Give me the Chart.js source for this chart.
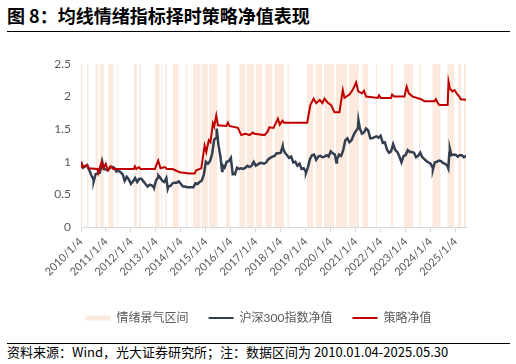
<!DOCTYPE html>
<html>
<head>
<meta charset="utf-8">
<script src="https://cdn.jsdelivr.net/npm/chart.js@4.4.1/dist/chart.umd.min.js"></script>
<style>
    body { margin: 0; background: #fff; width: 516px; height: 364px; position: relative; overflow: hidden; font-family: "Noto Sans CJK SC", sans-serif; }
    #title { position: absolute; left: 7px; top: 5px; font-size: 18px; font-weight: bold; line-height: 20px; color: #000; white-space: nowrap; }
    .rule { position: absolute; left: 7px; width: 503px; height: 1px; background: #000; }
    #source { position: absolute; left: 7px; top: 345px; font-size: 13px; line-height: 14px; color: #000; white-space: nowrap; }
    #wrap { position: absolute; left: 0; top: 40px; width: 516px; height: 294px; }
</style>
</head>
<body>
<div id="title">图 8：均线情绪指标择时策略净值表现</div>
<div class="rule" style="top:31px"></div>
<div id="wrap"><canvas id="chart"></canvas></div>
<div class="rule" style="top:343px"></div>
<div id="source">资料来源：Wind，光大证券研究所；注：数据区间为 2010.01.04-2025.05.30</div>
<script>
// --- dados (x em meses desde 2010/1/4) ---
const yearTickMonths = [0, 12, 24, 36, 48, 60, 72, 84, 96, 108, 120, 132, 144, 156, 168, 180];
const yearLabels = ['2010/1/4', '2011/1/4', '2012/1/4', '2013/1/4', '2014/1/4', '2015/1/4', '2016/1/4', '2017/1/4',
    '2018/1/4', '2019/1/4', '2020/1/4', '2021/1/4', '2022/1/4', '2023/1/4', '2024/1/4', '2025/1/4'];

const seriesNames = ['情绪景气区间', '沪深300指数净值', '策略净值'];

// 沪深300净值, fim de cada mês (2010/01 .. 2025/05)
const indexMonthEnd = [
    0.91, 0.93, 0.95, 0.87, 0.79, 0.73, 0.81, 0.82, 0.83, 0.96, 0.89, 0.88,
    0.87, 0.92, 0.92, 0.91, 0.85, 0.86, 0.84, 0.81, 0.71, 0.77, 0.73, 0.66,
    0.70, 0.75, 0.69, 0.74, 0.74, 0.70, 0.66, 0.62, 0.65, 0.64, 0.61, 0.71,
    0.76, 0.76, 0.71, 0.69, 0.75, 0.62, 0.63, 0.67, 0.68, 0.68, 0.70, 0.66,
    0.62, 0.62, 0.61, 0.61, 0.61, 0.61, 0.67, 0.66, 0.69, 0.71, 0.80, 1.00,
    0.97, 1.01, 1.12, 1.34, 1.37, 1.27, 1.08, 0.95, 0.91, 1.00, 1.01, 1.06,
    0.83, 0.81, 0.91, 0.89, 0.90, 0.89, 0.91, 0.94, 0.92, 0.94, 1.00, 0.94,
    0.96, 0.98, 0.98, 0.97, 0.99, 1.04, 1.06, 1.08, 1.09, 1.13, 1.13, 1.14,
    1.21, 1.14, 1.10, 1.06, 1.08, 0.99, 1.00, 0.94, 0.97, 0.89, 0.90, 0.85,
    0.91, 1.04, 1.10, 1.11, 1.03, 1.08, 1.09, 1.07, 1.08, 1.10, 1.08, 1.16,
    1.13, 1.11, 1.04, 1.11, 1.09, 1.18, 1.33, 1.36, 1.30, 1.33, 1.41, 1.47,
    1.51, 1.51, 1.43, 1.45, 1.51, 1.48, 1.36, 1.36, 1.38, 1.39, 1.37, 1.40,
    1.29, 1.30, 1.19, 1.14, 1.16, 1.27, 1.18, 1.15, 1.08, 0.99, 1.09, 1.10,
    1.18, 1.15, 1.15, 1.14, 1.07, 1.09, 1.14, 1.07, 1.04, 1.01, 0.99, 0.97,
    0.91, 0.99, 1.00, 1.02, 1.01, 0.98, 0.97, 0.94, 1.14, 1.10, 1.11, 1.11,
    1.08, 1.10, 1.10, 1.07, 1.09
];
// picos e vales dentro do mês
const indexSpikeMonths = [6.1, 10.2, 35.1, 37.2, 41.7, 65.2, 67.8, 72.9, 96.9, 108.1, 122.7, 133.3, 169.1, 176.5, 177.25];
const indexSpikeValues = [0.70, 1.00, 0.60, 0.79, 0.59, 1.51, 0.86, 0.81, 1.24, 0.83, 0.99, 1.64, 0.88, 0.90, 1.20];

// 策略净值
const strategyMonths = [0, 0.5, 2.9, 3.5, 7.9, 8.3, 9.9, 10.7, 11.9, 12.8, 14.3, 15.5, 25.4, 25.9, 26.6, 27.8, 28.6,
    35.5, 37.1, 38.2, 40.3, 41.3, 44, 47.4, 52, 54.6, 55.4, 57.8, 59.4, 60.2, 61.4, 62.2, 63.4, 64, 65, 65.8,
    69.8, 70.6, 71.3, 75.4, 77, 79, 81, 82.6, 83.3, 88.2, 89.8, 90.5, 92.5, 94.6, 95.5, 96.8, 97.6, 108.7,
    110.2, 111.8, 113, 114.7, 116, 117, 118.5, 120.2, 121.8, 124.2, 125.8, 126.6, 129, 130.5, 132.2, 133.2,
    135, 136, 137, 142.6, 143.2, 144, 149, 149.5, 150.5, 155.4, 156.5, 157.5, 159.4, 163.4, 165, 169.8,
    170.5, 171.5, 172.2, 176.2, 176.6, 177.3, 178.5, 179.5, 180.5, 181.8, 182.5, 185];
const strategyValues = [1.0, 0.92, 0.95, 0.9, 0.89, 0.83, 1.0, 0.9, 0.97, 0.87, 0.93, 0.89, 0.89, 0.93, 0.89, 0.92, 0.89,
    0.89, 1.02, 0.9, 0.92, 0.89, 0.89, 0.84, 0.82, 0.82, 0.87, 0.9, 1.25, 1.15, 1.33, 1.3, 1.59, 1.54, 1.71, 1.56,
    1.55, 1.6, 1.55, 1.52, 1.41, 1.43, 1.41, 1.45, 1.43, 1.41, 1.47, 1.53, 1.52, 1.66, 1.57, 1.63, 1.6, 1.6,
    1.87, 1.97, 1.9, 1.95, 1.9, 1.97, 1.91, 1.87, 1.76, 1.76, 2.1, 1.98, 2.03, 2.1, 2.22, 2.08,
    2.05, 2.09, 2.0, 1.98, 2.02, 1.98, 1.98, 2.03, 2.0, 2.0, 2.15, 2.05, 2.0, 1.96, 1.93, 1.93,
    1.96, 1.9, 1.87, 1.87, 2.23, 2.12, 2.08, 2.1, 2.05, 2.0, 1.96, 1.95];

// 情绪景气区间 (início / fim, em meses)
const bandStart = [0, 2.9, 6.9, 9.0, 13.2, 17.3, 25.3, 27.7, 35.5, 38.4, 40.3, 44.0, 50.4, 53.6, 58.0, 61.5, 69.6, 76.0,
    79.5, 84.0, 88.5, 93.0, 99.2, 108.5, 112.8, 116.8, 122.4, 128.8, 135.2, 141.6, 148.8, 155.2, 162.4, 168.8, 176.0, 181.0, 184.0];
const bandEnd = [0.7, 3.7, 8.4, 11.0, 15.7, 18.0, 26.9, 28.8, 37.8, 38.9, 41.3, 47.0, 51.2, 57.5, 61.0, 65.6, 71.7, 79.0,
    83.2, 87.2, 92.0, 97.6, 100.0, 111.7, 116.0, 121.6, 128.0, 133.6, 138.0, 142.4, 150.1, 159.7, 163.2, 172.8, 179.5, 182.6, 185];

const BAND_TOP = 2.5;

// --- montagem dos dados ---
const indexData = [{ x: 0, y: 1 }];
indexMonthEnd.forEach((v, i) => indexData.push({ x: i + 1, y: v }));
indexSpikeMonths.forEach((m, i) => indexData.push({ x: m, y: indexSpikeValues[i] }));
indexData.sort((a, b) => a.x - b.x);

const strategyData = strategyMonths.map((m, i) => ({ x: m, y: strategyValues[i] }));

const bandData = [];
bandStart.forEach((s, i) => {
    bandData.push({ x: s, y: BAND_TOP });
    bandData.push({ x: bandEnd[i], y: BAND_TOP });
    const next = i + 1 < bandStart.length ? bandStart[i + 1] : bandEnd[i] + 0.01;
    bandData.push({ x: (bandEnd[i] + next) / 2, y: null }); // quebra entre faixas
});

Chart.defaults.font.family = 'Lato, "Noto Sans CJK SC", sans-serif';
Chart.defaults.color = '#595959';

const BAND_COLOR = 'rgba(241, 170, 120, 0.25)';
const INDEX_COLOR = '#333F50';
const STRATEGY_COLOR = '#C00000';

const ctx = document.getElementById('chart').getContext('2d');
const chart = new Chart(ctx, {
    type: 'line',
    data: {
        datasets: [
            {
                label: seriesNames[0],
                data: bandData,
                borderWidth: 0,
                backgroundColor: BAND_COLOR,
                fill: 'origin',
                pointRadius: 0,
                spanGaps: false,
                order: 2
            },
            {
                label: seriesNames[1],
                data: indexData,
                borderColor: INDEX_COLOR,
                borderWidth: 2.5,
                pointRadius: 0,
                fill: false,
                tension: 0,
                order: 1
            },
            {
                label: seriesNames[2],
                data: strategyData,
                borderColor: STRATEGY_COLOR,
                borderWidth: 2,
                pointRadius: 0,
                fill: false,
                tension: 0,
                order: 0
            }
        ]
    },
    options: {
        responsive: true,
        maintainAspectRatio: false,
        animation: false,
        layout: { padding: { top: 24, left: 51, right: 50, bottom: 0 } },
        scales: {
            x: {
                type: 'linear',
                min: 0,
                max: 185,
                afterBuildTicks: axis => { axis.ticks = yearTickMonths.map(v => ({ value: v })); },
                afterFit: axis => { axis.height = 65; },
                ticks: {
                    autoSkip: false,
                    minRotation: 45,
                    maxRotation: 45,
                    font: { size: 11 },
                    color: '#595959',
                    callback: (v, i) => yearLabels[i]
                },
                grid: { display: true, drawOnChartArea: false, drawTicks: true, tickLength: 5, color: '#D9D9D9' },
                border: { display: true, color: '#D9D9D9' }
            },
            y: {
                min: 0,
                max: 2.5,
                afterFit: axis => { axis.width = 30; },
                ticks: {
                    stepSize: 0.5,
                    padding: 10,
                    font: { size: 12 },
                    color: '#595959',
                    callback: v => String(+v.toFixed(1))
                },
                grid: { display: false, drawTicks: false },
                border: { display: false }
            }
        },
        plugins: {
            tooltip: { enabled: false },
            legend: {
                display: true,
                position: 'bottom',
                labels: {
                    usePointStyle: true,
                    pointStyleWidth: 25,
                    boxHeight: 5,
                    padding: 20,
                    font: { size: 12 },
                    color: '#595959',
                    generateLabels: c => c.data.datasets.map((ds, i) => ({
                        text: ds.label,
                        datasetIndex: i,
                        fillStyle: i === 0 ? BAND_COLOR : ds.borderColor,
                        strokeStyle: i === 0 ? BAND_COLOR : ds.borderColor,
                        lineWidth: i === 0 ? 0 : 2,
                        pointStyle: i === 0 ? 'rect' : 'line',
                        fontColor: '#595959',
                        hidden: false
                    }))
                }
            }
        }
    }
});
</script>
</body>
</html>
